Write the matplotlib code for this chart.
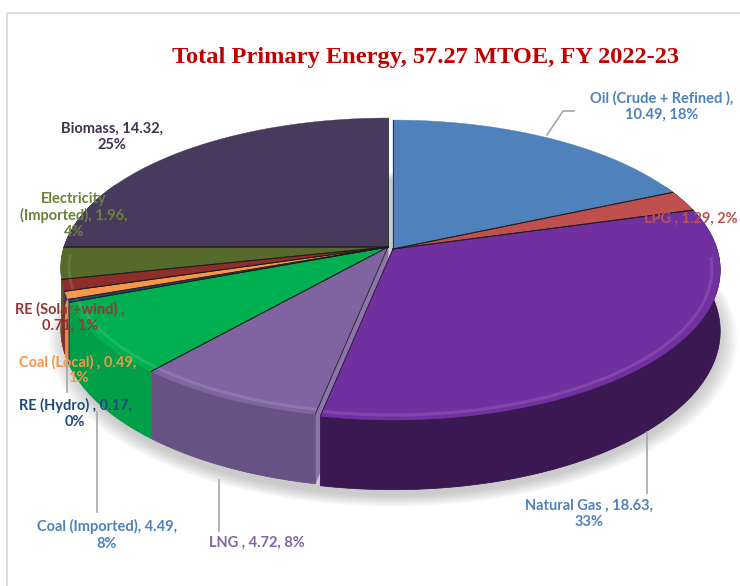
import numpy as np
import matplotlib.pyplot as plt
from matplotlib.patches import Polygon, Rectangle
from matplotlib.collections import PolyCollection
from matplotlib.colors import to_rgb

names = ['Oil (Crude + Refined )', 'LPG ', 'Natural Gas ', 'LNG ', 'Coal (Imported)',
         'RE (Hydro) ', 'Coal (Local) ', 'RE (Solar+wind) ', 'Electricity\n(Imported)', 'Biomass']
values = [10.49, 1.29, 18.63, 4.72, 4.49, 0.17, 0.49, 0.71, 1.96, 14.32]
percents = [18, 2, 33, 8, 8, 0, 1, 1, 4, 25]

colors = ['#4F81BD', '#C0504D', '#7030A0', '#8064A2', '#00B050',
          '#1F497D', '#F79646', '#8E2E2C', '#566A2C', '#483A5C']
text_colors = ['#4F81BD', '#C0504D', '#4F81BD', '#8064A2', '#4F81BD',
               '#1F497D', '#F79646', '#953735', '#6B8038', '#403152']
# where each data label wraps
wrap = ['name', None, 'value', None, 'value', 'value', 'value', 'name', 'value', 'value']
label_pos = [(662, 106.5), (738, 219), (589, 513.5), (257, 543), (107, 535),
             (75, 413.5), (78, 370), (70, 317.5), (74, 215.5), (112, 136.5)]
explode = [1, 1, 1, 0, 0, 0, 0, 0, 0, 0]

total = sum(values)
n = len(values)

# projected pie geometry (pixels, y down)
CX, CY = 388, 247
A, B, K, D = 324, 147, 0.14, 60
shift = np.array([5.0, 2.0])


def project(theta, r=1.0, depth=0.0):
    u = r * np.sin(theta)
    v = -r * np.cos(theta)
    w = 1 - K * v
    return CX + A * u / w, CY + (B * v + depth) / w


def lighter(c, f):
    c = np.array(to_rgb(c))
    return tuple(c + (1 - c) * f)


fig = plt.figure(figsize=(7.4, 5.86), dpi=100)
ax = fig.add_axes([0, 0, 1, 1])

ax.add_patch(Rectangle((7, 13), 800, 700, fill=False, ec='#D9D9D9', lw=1.3))

# soft shadow
tt = np.linspace(0, 2 * np.pi, 300)
for s in np.linspace(1.0, 1.05, 8):
    sx, sy = project(tt, s, D)
    ax.add_patch(Polygon(np.column_stack([sx + 5, sy + 8]), closed=True,
                         fc='#808080', ec='none', alpha=0.06))

bounds = np.concatenate([[0], np.cumsum(values)]) / total * 2 * np.pi

# radial walls only show where an exploded slice leaves a gap
walls, wall_cols = [], []
for i in range(n):
    ox, oy = shift * explode[i]
    for t, nb in ((bounds[i], (i - 1) % n), (bounds[i + 1], (i + 1) % n)):
        if explode[nb] == explode[i] or -np.cos(t) < 0.2:
            continue
        x1, y1 = project(t)
        x2, y2 = project(t, depth=D)
        walls.append([(CX + ox, CY + oy), (x1 + ox, y1 + oy),
                      (x2 + ox, y2 + oy), (CX + ox, CY + D + oy)])
        wall_cols.append(lighter(colors[i], 0.1))
ax.add_collection(PolyCollection(walls, facecolors=wall_cols, edgecolors=wall_cols, linewidths=0.4))

# outer side band with a left-to-right darkening gradient
for i in range(n):
    t0, t1 = bounds[i], bounds[i + 1]
    ox, oy = shift * explode[i]
    ts = np.linspace(t0, t1, max(3, int(np.degrees(t1 - t0) * 2)))
    ts = ts[-np.cos(ts) > -0.45]
    if len(ts) < 2:
        continue
    tx, ty = project(ts)
    bx, by = project(ts, depth=D)
    band = np.column_stack([np.r_[tx, bx[::-1]], np.r_[ty, by[::-1]]]) + [ox, oy]
    base = np.array(to_rgb(colors[i]))
    mid_shade = 0.7 - 0.25 * np.sin(0.5 * (ts[0] + ts[-1]))
    patch = Polygon(band, closed=True, fc=tuple(base * mid_shade), ec=tuple(base * mid_shade), lw=0.5)
    ax.add_patch(patch)
    x0, x1 = band[:, 0].min() - 1, band[:, 0].max() + 1
    y0, y1 = band[:, 1].min() - 1, band[:, 1].max() + 1
    xs = np.linspace(x0, x1, 200)
    u = np.clip((xs - CX - ox) / 327.0, -1, 1)
    img = np.clip(base[None, :] * (0.7 - 0.25 * u)[:, None], 0, 1)[None, :, :]
    im = ax.imshow(img, extent=[x0, x1, y1, y0], interpolation='bilinear', aspect='auto')
    im.set_clip_path(patch)

# top faces
for i in range(n):
    t0, t1 = bounds[i], bounds[i + 1]
    ox, oy = shift * explode[i]
    ts = np.linspace(t0, t1, max(3, int(np.degrees(t1 - t0)) * 2))
    px, py = project(ts)
    pts = np.column_stack([np.r_[CX, px], np.r_[CY, py]]) + [ox, oy]
    ax.add_patch(Polygon(pts, closed=True, fc=colors[i], ec=colors[i], lw=0.3, zorder=3))
    # bevel highlight on the front rim
    front = ts[-np.cos(ts) > 0.05]
    if len(front) > 1:
        hx, hy = project(front, 0.975)
        ax.plot(hx + ox, hy + oy, color=lighter(colors[i], 0.25), lw=2.2, alpha=0.45,
                solid_capstyle='butt', zorder=4)
    for t in (t0, t1):
        ex, ey = project(t)
        ax.plot([CX + ox, ex + ox], [CY + oy, ey + oy], color='#1a1a1a', lw=0.7,
                alpha=0.8, zorder=4)

# leader lines
leaders = [[(547, 135), (563, 111), (574, 111)], [(647, 432), (647, 493)],
           [(219, 480), (219, 531)], [(97, 412), (97, 512)], [(67, 360), (67, 392)]]
for ln in leaders:
    lx, ly = zip(*ln)
    ax.plot(lx, ly, color='#A6A6A6', lw=1.2, zorder=5)

# data labels
for i in range(n):
    s1 = '\n' if wrap[i] == 'name' else ' '
    s2 = '\n' if wrap[i] == 'value' else ' '
    txt = f'{names[i]},{s1}{values[i]:.2f},{s2}{percents[i]}%'
    x, y = label_pos[i]
    ax.text(x, y, txt, color=text_colors[i], fontsize=10.5, fontweight='bold',
            fontfamily='Lato', ha='right' if i == 1 else 'center', va='center',
            multialignment='center', linespacing=1.2, zorder=6)

ax.text(426, 57, 'Total Primary Energy, 57.27 MTOE, FY 2022-23', color='#C00000',
        fontsize=17.6, fontweight='bold', fontfamily='Liberation Serif',
        ha='center', va='center', zorder=6)

ax.set_xlim(0, 740)
ax.set_ylim(586, 0)
ax.axis('off')

plt.savefig('out.png', dpi=100)
